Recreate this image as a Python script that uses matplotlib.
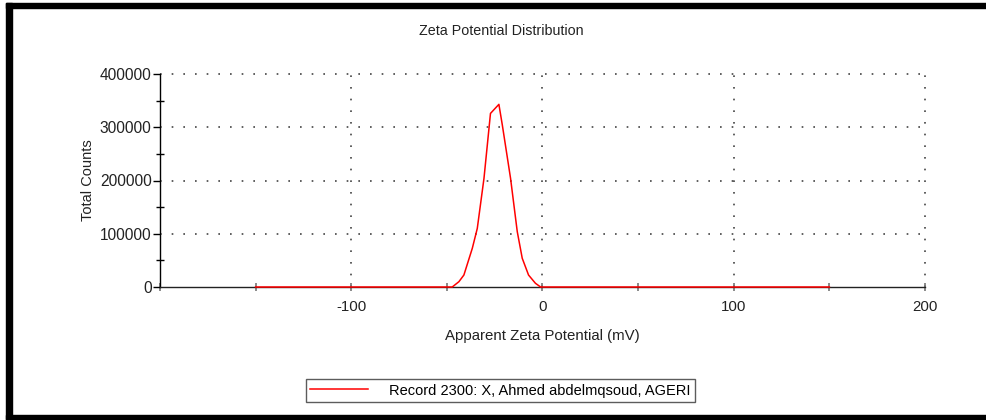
import matplotlib
matplotlib.use("Agg")
import matplotlib.pyplot as plt
from matplotlib.patches import Rectangle
from matplotlib.ticker import MultipleLocator

plt.rcParams['font.family'] = ['Liberation Sans', 'DejaVu Sans']
plt.rcParams['axes.unicode_minus'] = False

# zeta potential (mV) vs total counts for the record
zeta_mv = [-150, -47.2, -43.7, -41.1, -36.7, -34.1, -30.6, -27.2, -22.8, -21.0,
           -16.7, -13.2, -10.6, -7.3, -3.7, -1.0, 150]
counts = [0, 0, 10000, 22500, 72700, 110000, 204000, 326000, 343000, 304000,
          204000, 104000, 54000, 22500, 7000, 0, 0]

x_major = [-100, 0, 100, 200]
y_major = [0, 100000, 200000, 300000, 400000]
record_label = "Record 2300: X, Ahmed abdelmqsoud, AGERI"

W, H = 987, 420
fig = plt.figure(figsize=(W / 100, H / 100), dpi=100)
ax = fig.add_axes([160 / W, 1 - 287 / H, (925 - 160) / W, (287 - 74) / H])

line, = ax.plot(zeta_mv, counts, color='#ff0000', lw=1.1, zorder=4, clip_on=False)

ax.set_xlim(-200, 200)
ax.set_ylim(0, 400000)
ax.set_xticks(x_major)
ax.set_yticks(y_major)
ax.xaxis.set_minor_locator(MultipleLocator(50))
ax.yaxis.set_minor_locator(MultipleLocator(50000))

for s in ('top', 'right'):
    ax.spines[s].set_visible(False)
ax.spines['left'].set_color('black')
ax.spines['bottom'].set_color('#222222')
ax.spines['left'].set_linewidth(1.0)
ax.spines['bottom'].set_linewidth(1.0)

ax.tick_params(axis='y', which='major', direction='out', length=5, width=1,
               labelsize=11.2, pad=1, labelcolor='#222222')
ax.tick_params(axis='y', which='minor', direction='inout', length=6, width=1)
ax.tick_params(axis='x', which='both', direction='inout', length=6, width=1.2,
               color='#777777', labelsize=10.8, pad=6.5, labelcolor='#222222')

# dotted grid lines at major positions
for xv in x_major:
    ax.plot([xv, xv], [0, 400000], ls=(0, (1, 6)), color='#444444', lw=1.2,
            zorder=1, clip_on=False)
for yv in y_major[1:]:
    ax.plot([-200, 200], [yv, yv], ls=(0, (1, 6)), color='#444444', lw=1.2,
            zorder=1, clip_on=False)

ax.set_xlabel("Apparent Zeta Potential (mV)", fontsize=10.8, labelpad=10.5, color='#222222')
ax.set_ylabel("Total Counts", fontsize=10.5, labelpad=3.5, color='#222222')
fig.text(501 / W, 1 - 31 / H, "Zeta Potential Distribution", ha='center', va='center',
         fontsize=10.3, color='#222222')

leg = fig.legend([line], [record_label], loc='center',
                 bbox_to_anchor=(500 / W, 1 - 390.5 / H), fontsize=10.5,
                 frameon=True, fancybox=False, handlelength=4.0, handletextpad=1.4,
                 borderpad=0.3, borderaxespad=0)
leg.get_frame().set_edgecolor('#333333')
leg.get_frame().set_linewidth(1.0)
leg._legend_box.sep = 0
# tighter horizontal padding inside the frame
leg.borderpad = 0.1

# outer window frame: left, top and bottom bars
fig.patches.append(Rectangle((6 / W, 1 - 420 / H), 6 / W, 417 / H,
                             transform=fig.transFigure, color='black', zorder=10))
fig.patches.append(Rectangle((6 / W, 1 - 8 / H), 981 / W, 5 / H,
                             transform=fig.transFigure, color='black', zorder=10))
fig.patches.append(Rectangle((6 / W, 1 - 419 / H), 981 / W, 4 / H,
                             transform=fig.transFigure, color='black', zorder=10))

fig.savefig("out.png", dpi=100, facecolor='white')
